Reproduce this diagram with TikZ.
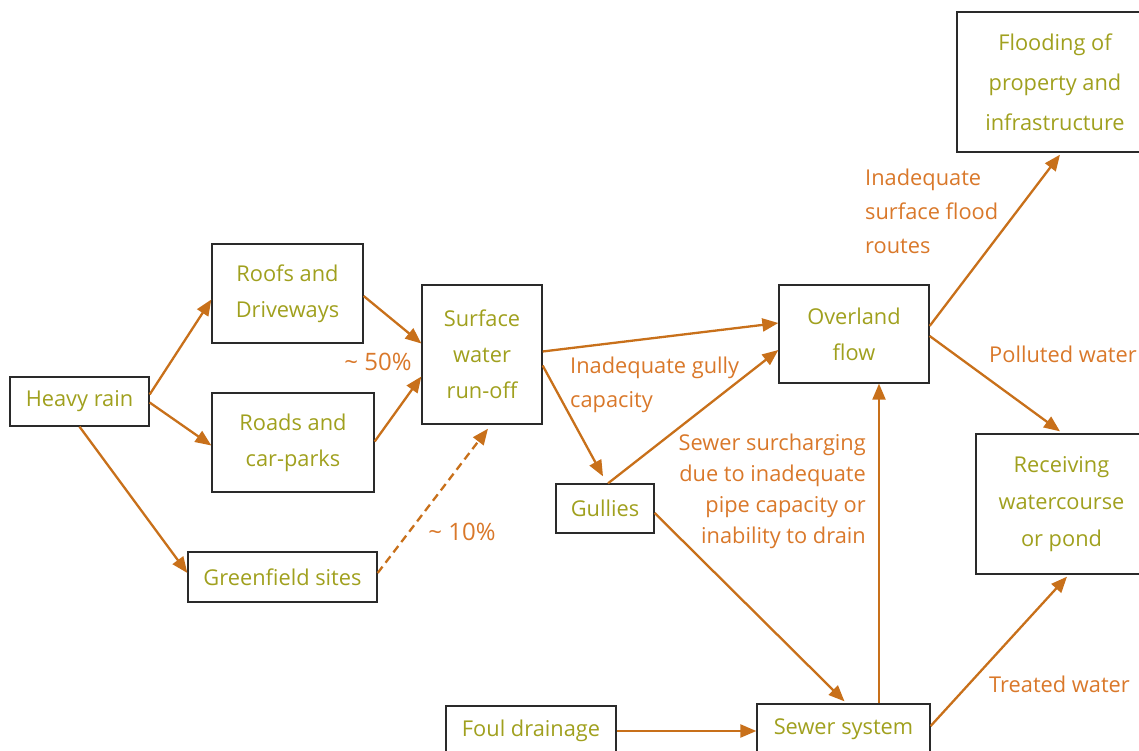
\documentclass[tikz,border=0pt]{standalone}
\usepackage{fontspec}
\setmainfont{Open Sans}
\usetikzlibrary{arrows.meta,calc}
\definecolor{boxtext}{HTML}{A0A01E}
\definecolor{arrowc}{HTML}{C8701A}
\definecolor{labc}{HTML}{D9782A}
\definecolor{boxline}{HTML}{2A2A2A}
\begin{document}
\begin{tikzpicture}[x=1pt,y=-1pt,
  box/.style={draw=boxline, line width=1.3pt, inner sep=0pt, text=boxtext, align=center, font=\fontsize{21.8}{36}\selectfont},
  flow/.style={draw=arrowc, line width=2.3pt, -{Triangle[length=16pt,width=13pt]}},
  lab/.style={text=labc, inner sep=0pt, font=\fontsize{21.8}{34}\selectfont},
  pct/.style={text=labc, inner sep=0pt, font=\fontsize{24}{28}\selectfont}]
\useasboundingbox (0,0) rectangle (1139,751);
\clip (0,0) rectangle (1139,751);
% boxes
\node[box, minimum width=139pt, minimum height=49pt] (heavy) at (79.5,401.5) {Heavy rain};
\node[box, minimum width=151pt, minimum height=99pt] (roofs) at (287.5,293.5) {Roofs and\\Driveways};
\node[box, minimum width=162pt, minimum height=99pt] (roads) at (293,442.5) {Roads and\\car-parks};
\node[box, minimum width=189pt, minimum height=50pt] (green) at (282.5,577) {Greenfield sites};
\node[box, minimum width=120pt, minimum height=139pt] (surf) at (482,354.5) {Surface\\water\\run-off};
\node[box, minimum width=98pt, minimum height=49pt] (gull) at (605,508.5) {Gullies};
\node[box, minimum width=150pt, minimum height=98pt] (over) at (854,334) {Overland\\flow};
\node[box, minimum width=196pt, minimum height=140pt, font=\fontsize{21.8}{40}\selectfont] (flood) at (1055,82) {Flooding of\\property and\\infrastructure};
\node[box, minimum width=171pt, minimum height=140pt, font=\fontsize{21.8}{37}\selectfont] (recv) at (1061.5,504) {Receiving\\watercourse\\or pond};
\node[box, minimum width=170pt, minimum height=50pt] (foul) at (531,731) {Foul drainage};
\node[box, minimum width=173pt, minimum height=50pt] (sewer) at (843.5,729) {Sewer system};
% connectors
\draw[flow] ($(heavy.east)+(0,-7)$) -- ($(roofs.west)+(0,6)$);
\draw[flow] ($(heavy.east)+(0,1)$) -- ($(roads.west)+(0,3)$);
\draw[flow] (heavy.south) -- ($(green.west)+(0,-4)$);
\draw[flow] ($(roofs.east)+(0,2.5)$) -- ($(surf.west)+(0,-11)$);
\draw[flow] ($(roads.east)+(0,-1)$) -- ($(surf.west)+(0,22)$);
\draw[flow, dash pattern=on 8pt off 5pt] ($(green.east)+(0,-4)$) -- ($(surf.south)+(6,4)$);
\draw[flow] ($(surf.east)+(0,-3)$) -- ($(over.west)+(0,-11)$);
\draw[flow] ($(surf.east)+(0,11)$) -- ($(gull.north)+(-2,-7)$);
\draw[flow] ($(gull.north)+(3,0)$) -- ($(over.west)+(0,16)$);
\draw[flow] ($(gull.east)+(0,4.5)$) -- ($(sewer.north)+(1,-2)$);
\draw[flow] (foul.east) -- ($(sewer.west)+(0,2)$);
\coordinate (sup) at ($(sewer.north)+(35.5,0)$);
\draw[flow] (sup) -- (sup |- over.south);
\draw[flow] ($(sewer.east)+(0,-3)$) -- ($(recv.south)+(5.5,2)$);
\draw[flow] ($(over.east)+(0,-8)$) -- ($(flood.south)+(5,2)$);
\draw[flow] ($(over.east)+(0,2)$) -- ($(recv.north)+(-1.5,-2)$);
% labels
\node[pct] (l50) at (378,362) {\textasciitilde{} 50\%};
\node[pct] (l10) at (462,532) {\textasciitilde{} 10\%};
\node[lab, anchor=west, align=left] (lgully) at (570,385) {Inadequate gully\\capacity};
\node[lab, anchor=east, align=right, font=\fontsize{21.8}{31}\selectfont] (lsewer) at (866,491) {Sewer surcharging\\due to inadequate\\pipe capacity or\\inability to drain};
\node[lab, anchor=west, align=left] (lroutes) at (865,211.5) {Inadequate\\surface flood\\routes};
\node[lab, anchor=west] (lpoll) at (989,354) {Polluted water};
\node[lab, anchor=west] (ltreat) at (989,684) {Treated water};
\end{tikzpicture}
\end{document}
